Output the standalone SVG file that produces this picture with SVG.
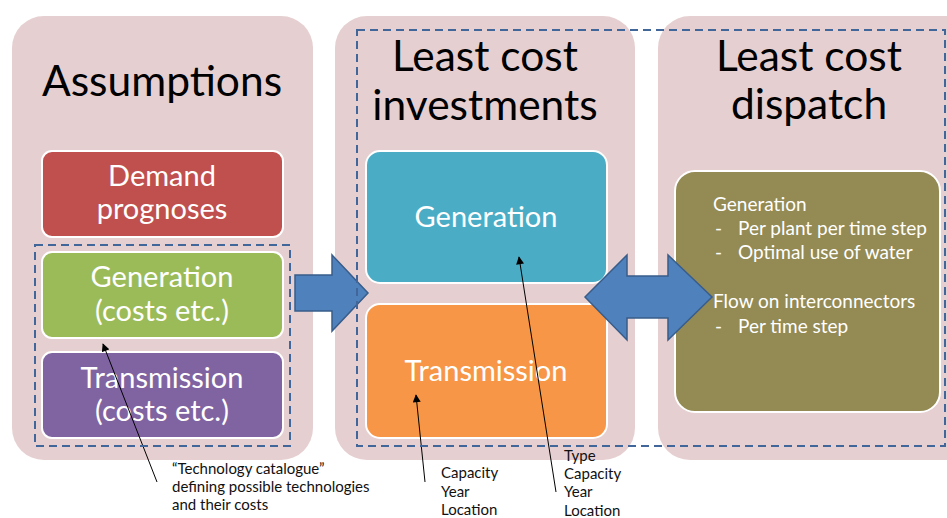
<svg xmlns="http://www.w3.org/2000/svg" width="947" height="518" viewBox="0 0 947 518">
<defs>
<style>
.panel{fill:#E6CFD0;}
.title{font-family:Lato,"Liberation Sans",Arial,sans-serif;font-size:42.5px;fill:#000;text-anchor:middle;}
.box{stroke:#fff;stroke-width:2;}
.bt{font-family:Lato,"Liberation Sans",Arial,sans-serif;font-size:29px;fill:#fff;text-anchor:middle;}
.st{font-family:Lato,"Liberation Sans",Arial,sans-serif;font-size:19px;fill:#fff;}
.note{font-family:Lato,"Liberation Sans",Arial,sans-serif;font-size:15px;fill:#111;}
.dash{fill:none;stroke:#41679A;stroke-width:2;stroke-dasharray:8 5;}
.barrow{fill:#4F81BD;stroke:#385D8A;stroke-width:1.5;stroke-linejoin:miter;}
.ann{stroke:#000;stroke-width:1;fill:none;marker-end:url(#ah);}
</style>
<marker id="ah" viewBox="0 0 10 10" refX="9" refY="5" markerWidth="9" markerHeight="8" markerUnits="userSpaceOnUse" orient="auto">
<path d="M0,0 L10,5 L0,10 z" fill="#000"/>
</marker>
</defs>
<rect width="947" height="518" fill="#fff"/>

<g id="panel-assumptions">
<rect class="panel" x="12" y="16" width="301" height="444" rx="32"/>
<text class="title" x="162" y="96">Assumptions</text>
</g>
<g id="panel-investments">
<rect class="panel" x="335" y="16" width="300" height="444" rx="32"/>
<text class="title" x="485" y="71">Least cost</text>
<text class="title" x="485" y="120">investments</text>
</g>
<g id="panel-dispatch">
<rect class="panel" x="658" y="16" width="320" height="444" rx="32"/>
<text class="title" x="809" y="71">Least cost</text>
<text class="title" x="809" y="119">dispatch</text>
</g>

<g id="demand">
<rect class="box" x="42" y="151" width="241" height="86" rx="10" fill="#C0504D"/>
<text class="bt" x="162" y="186">Demand</text>
<text class="bt" x="162" y="219">prognoses</text>
</g>
<g id="gen-costs">
<rect class="box" x="42" y="252" width="241" height="86" rx="10" fill="#9BBB59"/>
<text class="bt" x="162" y="287">Generation</text>
<text class="bt" x="162" y="321">(costs etc.)</text>
</g>
<g id="trans-costs">
<rect class="box" x="42" y="352" width="241" height="86" rx="10" fill="#8064A2"/>
<text class="bt" x="162" y="388">Transmission</text>
<text class="bt" x="162" y="421">(costs etc.)</text>
</g>

<g id="gen-invest">
<rect class="box" x="366" y="151" width="241" height="132" rx="14" fill="#4BACC6"/>
<text class="bt" x="486" y="227">Generation</text>
</g>
<g id="trans-invest">
<rect class="box" x="366" y="304" width="241" height="134" rx="14" fill="#F79646"/>
<text class="bt" x="486" y="381">Transmission</text>
</g>

<g id="dispatch-box">
<rect class="box" x="675" y="171" width="265" height="241" rx="20" fill="#948A54"/>
<text class="st" x="713" y="211">Generation</text>
<text class="st" x="715" y="235">-</text>
<text class="st" x="738" y="235">Per plant per time step</text>
<text class="st" x="715" y="259">-</text>
<text class="st" x="738" y="259">Optimal use of water</text>
<text class="st" x="713" y="308">Flow on interconnectors</text>
<text class="st" x="715" y="333">-</text>
<text class="st" x="738" y="333">Per time step</text>
</g>

<g id="connectors">
<polygon class="barrow" points="295,275 332,275 332,255 368,293 332,331 332,311 295,311"/>
<polygon class="barrow" points="585,297 627,255 627,276 668,276 668,255 712,297 668,340 668,318 627,318 627,340"/>
<line class="ann" x1="157" y1="482" x2="103" y2="344"/>
<line class="ann" x1="425" y1="482" x2="416" y2="395"/>
<line class="ann" x1="556" y1="492" x2="519" y2="257"/>
</g>

<g id="groups">
<rect class="dash" x="35" y="245" width="255" height="201"/>
<rect class="dash" x="357" y="30" width="588" height="416"/>
</g>

<g id="note-catalogue">
<text class="note" x="172" y="474">“Technology catalogue”</text>
<text class="note" x="172" y="492">defining possible technologies</text>
<text class="note" x="172" y="510">and their costs</text>
</g>
<g id="note-trans">
<text class="note" x="441" y="478">Capacity</text>
<text class="note" x="441" y="497">Year</text>
<text class="note" x="441" y="515">Location</text>
</g>
<g id="note-gen">
<text class="note" x="564" y="461">Type</text>
<text class="note" x="564" y="479">Capacity</text>
<text class="note" x="564" y="497">Year</text>
<text class="note" x="564" y="516">Location</text>
</g>
</svg>
